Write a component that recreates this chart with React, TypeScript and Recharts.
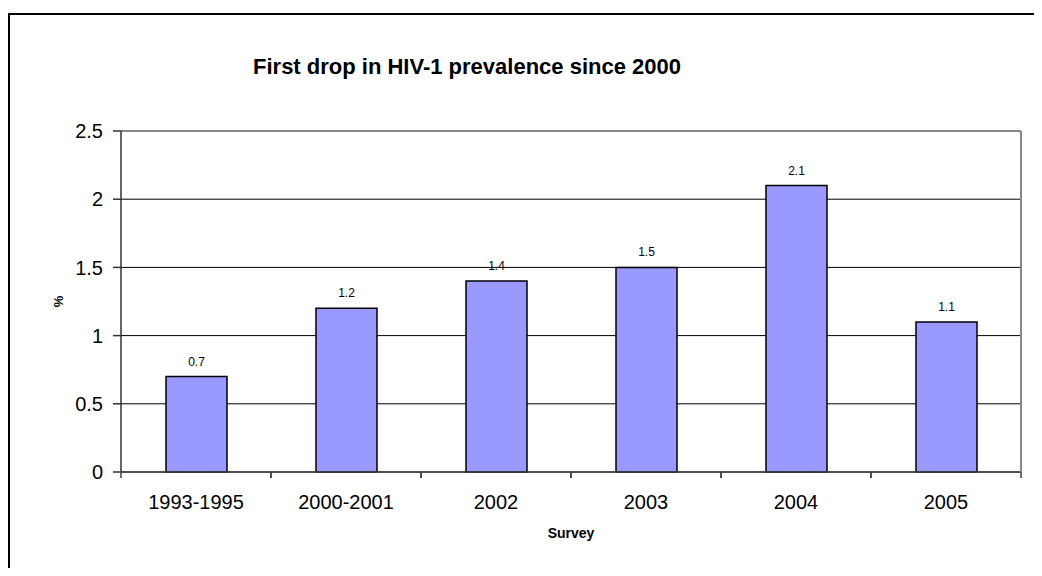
import { BarChart, Bar, XAxis, YAxis, CartesianGrid, LabelList } from "recharts";

const surveys = ["1993-1995", "2000-2001", "2002", "2003", "2004", "2005"];
const prevalence = [0.7, 1.2, 1.4, 1.5, 2.1, 1.1];
const yTicks = [0, 0.5, 1, 1.5, 2, 2.5];

const data = surveys.map((survey, i) => ({ survey, value: prevalence[i] }));

const FONT = "'Liberation Sans', Arial, sans-serif";
const X_TICK_MARGIN = 23;

// category label plus the short tick marks that sit on the category boundaries
function SurveyTick(props: any) {
  const { x, y, payload } = props;
  const half = payload.offset || 0;
  const axisY = y - X_TICK_MARGIN;
  return (
    <g>
      <line x1={x - half} x2={x - half} y1={axisY} y2={axisY + 6} stroke="#404040" strokeWidth={1.5} />
      <line x1={x + half} x2={x + half} y1={axisY} y2={axisY + 6} stroke="#404040" strokeWidth={1.5} />
      <text x={x} y={y} dy="0.71em" textAnchor="middle" fontSize={20} fill="#000" fontFamily={FONT}>
        {payload.value}
      </text>
    </g>
  );
}

export default function App() {
  return (
    <div
      style={{
        position: "relative",
        width: 1034,
        height: 560,
        overflow: "hidden",
        fontFamily: FONT,
      }}
    >
      <div
        style={{
          position: "absolute",
          left: 0,
          top: 5,
          right: 0,
          bottom: 0,
          borderTop: "2px solid #000",
          borderLeft: "2px solid #000",
        }}
      />
      <div
        style={{
          position: "absolute",
          left: 0,
          top: 48,
          width: 918,
          textAlign: "center",
          fontSize: 22,
          lineHeight: "22px",
          fontWeight: "bold",
          color: "#000",
        }}
      >
        First drop in HIV-1 prevalence since 2000
      </div>
      <div style={{ position: "absolute", left: 0, top: 0 }}>
        <BarChart
          width={1034}
          height={560}
          data={data}
          margin={{ top: 122, right: 20, left: 0, bottom: 20 }}
        >
          <CartesianGrid vertical={false} stroke="#000" />
          <XAxis
            dataKey="survey"
            tickLine={false}
            tickSize={0}
            tickMargin={X_TICK_MARGIN}
            height={76}
            interval={0}
            stroke="#404040"
            strokeWidth={1.5}
            tick={<SurveyTick />}
            label={{
              value: "Survey",
              position: "insideBottom",
              offset: 10,
              fontSize: 14,
              fontWeight: "bold",
              fill: "#000",
              fontFamily: FONT,
            }}
          />
          <XAxis
            xAxisId="top"
            dataKey="survey"
            orientation="top"
            height={1}
            tick={false}
            tickLine={false}
            stroke="#888"
            strokeWidth={2}
          />
          <YAxis
            domain={[0, 2.5]}
            ticks={yTicks}
            width={113}
            tickSize={8}
            tickMargin={10}
            stroke="#333"
            strokeWidth={1.5}
            tick={{ fontSize: 20, fill: "#000", fontFamily: FONT }}
            label={{
              content: ({ viewBox }: any) => {
                const cx = viewBox.x + 50;
                const cy = viewBox.y + viewBox.height / 2;
                return (
                  <text
                    x={cx}
                    y={cy}
                    transform={`rotate(-90, ${cx}, ${cy})`}
                    textAnchor="middle"
                    dominantBaseline="central"
                    fontSize={13}
                    fontWeight="bold"
                    fill="#000"
                    fontFamily={FONT}
                  >
                    %
                  </text>
                );
              },
            }}
          />
          <YAxis
            yAxisId="right"
            orientation="right"
            domain={[0, 2.5]}
            width={1}
            tick={false}
            tickLine={false}
            stroke="#888"
            strokeWidth={2}
          />
          <Bar
            dataKey="value"
            fill="#9999FF"
            stroke="#000"
            strokeWidth={1.5}
            barSize={61}
            isAnimationActive={false}
          >
            <LabelList
              dataKey="value"
              position="top"
              offset={11}
              fontSize={12}
              fill="#000"
              fontFamily={FONT}
            />
          </Bar>
        </BarChart>
      </div>
    </div>
  );
}
